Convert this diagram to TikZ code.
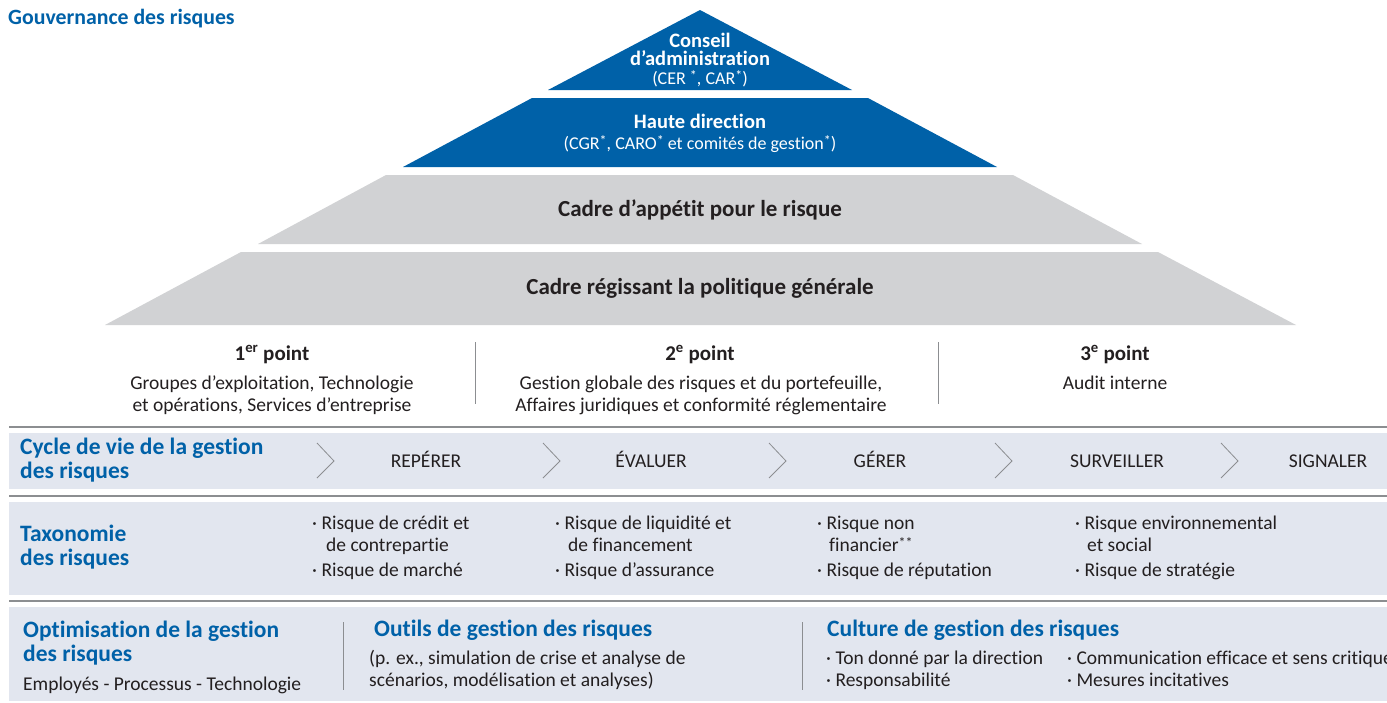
\documentclass[tikz,border=0pt]{standalone}
\usepackage{fontspec}
\setmainfont{Carlito}[Ligatures={NoCommon}]
\definecolor{rbcblue}{HTML}{0061A8}
\definecolor{pgray}{HTML}{D1D2D4}
\definecolor{band}{HTML}{E2E6EF}
\definecolor{rule}{HTML}{8C8E91}
\definecolor{ink}{HTML}{231F20}
\tikzset{
  txt/.style={inner sep=0pt, text=ink},
  ptitle/.style={txt, anchor=base, font=\bfseries\fontsize{20.5}{24}\selectfont, text=white},
  psub/.style={txt, anchor=base, font=\fontsize{18}{21}\selectfont, text=white},
  pgt/.style={txt, anchor=base, font=\bfseries\fontsize{23}{26}\selectfont},
  lod/.style={txt, anchor=base, font=\bfseries\fontsize{21}{24}\selectfont},
  body/.style={txt, font=\fontsize{19.5}{22}\selectfont},
  bodyc/.style={body, anchor=base},
  bodyl/.style={body, anchor=base west},
  rowt/.style={txt, anchor=base west, font=\bfseries\fontsize{23.5}{26}\selectfont, text=rbcblue},
  chev/.style={draw=rule, line width=0.8pt},
  sep/.style={draw=rule, line width=0.8pt},
  hrule/.style={draw=rule, line width=1.6pt},
}
\newcommand{\bul}{\textperiodcentered\ }
\newcommand{\sast}{{\fontsize{14}{14}\selectfont\raisebox{0.25em}{*}}}
\begin{document}
\begin{tikzpicture}[x=1pt,y=-1pt]
\clip (0,0) rectangle (1387,702);
\fill[white] (0,0) rectangle (1387,702);
% title
\node[rowt, font=\bfseries\fontsize{21.8}{24}\selectfont] (title) at (8,24) {Gouvernance des risques};
% pyramid
\fill[rbcblue] (700,10) -- (852,90) -- (548,90) -- cycle;
\fill[rbcblue] (532,98) -- (868,98) -- (997,167) -- (403,167) -- cycle;
\fill[pgray] (386,175) -- (1013,175) -- (1142,244) -- (258,244) -- cycle;
\fill[pgray] (241,252) -- (1158,252) -- (1296,325) -- (105,325) -- cycle;
\node[ptitle] (ca1) at (700,47) {Conseil};
\node[ptitle] (ca2) at (700,65) {d’administration};
\node[psub] (ca3) at (700,84) {(CER~\sast, CAR\sast)};
\node[ptitle] (hd1) at (700,128) {Haute direction};
\node[psub] (hd2) at (700,149) {(CGR\sast, CARO\sast{} et comités de gestion\sast)};
\node[pgt] (cap) at (700,216) {Cadre d’appétit pour le risque};
\node[pgt] (crp) at (700,294) {Cadre régissant la politique générale};
% lines of defence
\node[lod] (p1) at (272,360) {1\textsuperscript{er} point};
\node[lod] (p2) at (700,360) {2\textsuperscript{e} point};
\node[lod] (p3) at (1115,360) {3\textsuperscript{e} point};
\node[bodyc] (d1a) at (272,389) {Groupes d’exploitation, Technologie};
\node[bodyc] (d1b) at (272,411) {et opérations, Services d’entreprise};
\node[bodyc] (d2a) at (701,389) {Gestion globale des risques et du portefeuille,};
\node[bodyc] (d2b) at (701,411) {Affaires juridiques et conformité réglementaire};
\node[bodyc] (d3a) at (1115,389) {Audit interne};
\path[sep] (475,342) -- (475,404);
\path[sep] (938,342) -- (938,404);
% rules and bands
\path[hrule] (9,427) -- (1387,427);
\fill[band] (9,433) rectangle (1387,489);
\path[hrule] (9,496) -- (1387,496);
\fill[band] (9,502) rectangle (1387,595);
\path[hrule] (9,601) -- (1387,601);
\fill[band] (9,607) rectangle (1387,701);
% cycle row
\node[rowt] (cy1) at (20,454) {Cycle de vie de la gestion};
\node[rowt] (cy2) at (20,478) {des risques};
\foreach \x in {317,543,769,995,1221}{\path[chev] (\x,443) -- (\x+17,461) -- (\x,478);}
\node[bodyc] (s1) at (426,467) {REPÉRER};
\node[bodyc] (s2) at (651,467) {ÉVALUER};
\node[bodyc] (s3) at (880,467) {GÉRER};
\node[bodyc] (s4) at (1117,467) {SURVEILLER};
\node[bodyc] (s5) at (1328,467) {SIGNALER};
% taxonomy row
\node[rowt] (tx1) at (20,541) {Taxonomie};
\node[rowt] (tx2) at (20,565) {des risques};
\node[bodyl] (t1a) at (312,529) {\bul Risque de crédit et};
\node[bodyl] (t1b) at (326,551) {de contrepartie};
\node[bodyl] (t1c) at (312,576) {\bul Risque de marché};
\node[bodyl] (t2a) at (555,529) {\bul Risque de liquidité et};
\node[bodyl] (t2b) at (568,551) {de financement};
\node[bodyl] (t2c) at (555,576) {\bul Risque d’assurance};
\node[bodyl] (t3a) at (817,529) {\bul Risque non};
\node[bodyl] (t3b) at (829,551) {financier\sast\sast};
\node[bodyl] (t3c) at (817,576) {\bul Risque de réputation};
\node[bodyl] (t4a) at (1075,529) {\bul Risque environnemental};
\node[bodyl] (t4b) at (1087,551) {et social};
\node[bodyl] (t4c) at (1075,576) {\bul Risque de stratégie};
% bottom row
\node[rowt] (op1) at (23,637) {Optimisation de la gestion};
\node[rowt] (op2) at (23,661) {des risques};
\node[bodyl] (op3) at (23,690) {Employés - Processus - Technologie};
\path[sep] (343,622) -- (343,690);
\node[rowt] (ou1) at (374,636) {Outils de gestion des risques};
\node[bodyl] (ou2) at (369,664) {(p. ex., simulation de crise et analyse de};
\node[bodyl] (ou3) at (369,686) {scénarios, modélisation et analyses)};
\path[sep] (802,622) -- (802,690);
\node[rowt] (cu1) at (827,636) {Culture de gestion des risques};
\node[bodyl] (cu2) at (826,664) {\bul Ton donné par la direction};
\node[bodyl] (cu3) at (826,686) {\bul Responsabilité};
\node[bodyl] (cu4) at (1067,664) {\bul Communication efficace et sens critique};
\node[bodyl] (cu5) at (1067,686) {\bul Mesures incitatives};
\end{tikzpicture}
\end{document}
